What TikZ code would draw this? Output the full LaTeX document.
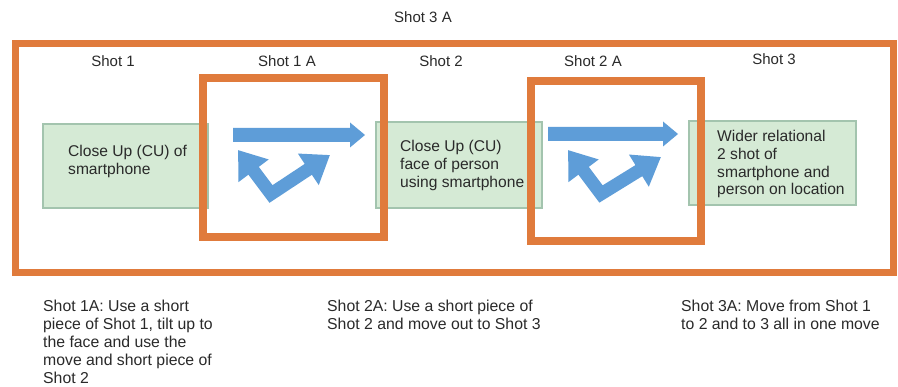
\documentclass[tikz,border=0pt]{standalone}
\usepackage{fontspec}
\setmainfont{Liberation Sans}
\usetikzlibrary{arrows.meta}
\definecolor{frameorange}{HTML}{E07B3C}
\definecolor{shotgreen}{HTML}{D5EAD5}
\definecolor{shotgreenline}{HTML}{A3C4AE}
\definecolor{arrowblue}{HTML}{5E9DD8}
\definecolor{textgray}{HTML}{2A2A2A}
\begin{document}
\begin{tikzpicture}[x=1pt,y=-1pt,
  every node/.style={text=textgray, inner sep=0pt},
  shotlabel/.style={font=\fontsize{15}{17}\selectfont},
  shotbox/.style={draw=shotgreenline, fill=shotgreen, line width=1.5pt, anchor=north west, outer sep=0pt},
  boxtext/.style={font=\fontsize{15.6}{17.8}\selectfont, align=left, anchor=north west},
  notetext/.style={font=\fontsize{15.8}{18}\selectfont, align=left, anchor=north west},
  outerframe/.style={draw=frameorange, line width=7pt, outer sep=0pt},
  innerframe/.style={draw=frameorange, line width=8pt, outer sep=0pt},
  movearrow/.style={fill=arrowblue},
  varrow/.style={draw=arrowblue, line width=13pt, line join=miter,
    arrows={Triangle[width=36pt,length=26pt]-Triangle[width=36pt,length=26pt]}}
]
\useasboundingbox[fill=white] (0,0) rectangle (898,387);

% outer frame (Shot 3 A)
\node[outerframe, minimum width=878pt, minimum height=229pt, anchor=north west] (outer) at (15,44) {};
\node[shotlabel] (l3A) at (423,17) {Shot 3 A};

% shot labels
\node[shotlabel] (l1) at (113,61) {Shot 1};
\node[shotlabel] (l1A) at (287,61) {Shot 1 A};
\node[shotlabel] (l2) at (441,61) {Shot 2};
\node[shotlabel] (l2A) at (593,61) {Shot 2 A};
\node[shotlabel] (l3) at (774,59) {Shot 3};

% green shot boxes
\node[shotbox, minimum width=165pt, minimum height=84pt] (gA) at (43,124) {};
\node[shotbox, minimum width=166pt, minimum height=86pt] (gB) at (376,122) {};
\node[shotbox, minimum width=167pt, minimum height=84pt] (gC) at (689,121) {};

\node[boxtext] (tA) at (68,145) {Close Up (CU) of\\smartphone};
\node[boxtext] (tB) at (400,140) {Close Up (CU)\\face of person\\using smartphone};
\node[boxtext] (tC) at (717,130) {Wider relational\\2 shot of\\smartphone and\\person on location};

% inner frames
\node[innerframe, minimum width=181pt, minimum height=159pt, anchor=north west] (f1) at (203,78) {};
\node[innerframe, minimum width=170pt, minimum height=160pt, anchor=north west] (f2) at (531,81) {};

% arrows in frame 1
\fill[movearrow] (233,128) -- (350,128) -- (350,122.5) -- (365,135) -- (350,147.5) -- (350,142) -- (233,142) -- cycle;
\draw[varrow] (238,150) -- (271,194) -- (330,155);

% arrows in frame 2
\fill[movearrow] (548,127) -- (663,127) -- (663,121.5) -- (678,134) -- (663,146.5) -- (663,141) -- (548,141) -- cycle;
\draw[varrow] (568,150) -- (601,194) -- (661,157);

% notes
\node[notetext] (n1) at (43,300) {Shot 1A: Use a short\\piece of Shot 1, tilt up to\\the face and use the\\move and short piece of\\Shot 2};
\node[notetext] (n2) at (327,300) {Shot 2A: Use a short piece of\\Shot 2 and move out to Shot 3};
\node[notetext] (n3) at (681,300) {Shot 3A: Move from Shot 1\\to 2 and to 3 all in one move};
\end{tikzpicture}
\end{document}
